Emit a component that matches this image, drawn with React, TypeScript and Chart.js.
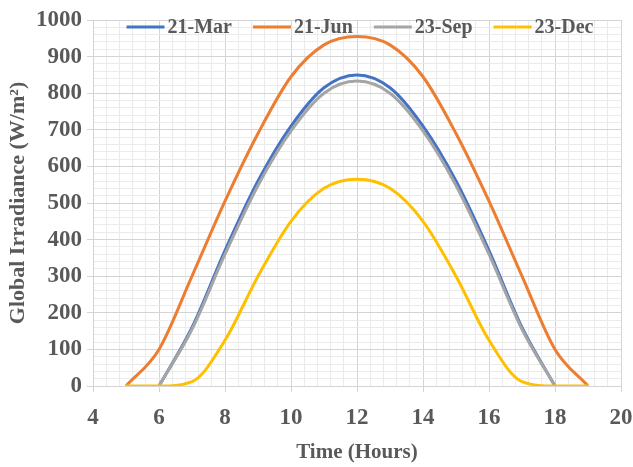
import { useEffect, useRef } from "react";
import { Chart, registerables } from "chart.js";

Chart.register(...registerables);

// Hour of day for each reading
const hoursFull = [5, 6, 7, 8, 9, 10, 11, 12, 13, 14, 15, 16, 17, 18, 19];
const hoursDay = [6, 7, 8, 9, 10, 11, 12, 13, 14, 15, 16, 17, 18];

// Global irradiance (W/m²) per series
const marValues = [0, 160, 370, 560, 710, 815, 850, 815, 710, 560, 370, 160, 0];
const junValues = [0, 100, 300, 505, 690, 845, 932, 955, 932, 845, 690, 505, 300, 100, 0];
const sepValues = [0, 155, 360, 548, 697, 800, 833, 800, 697, 548, 360, 155, 0];
const decValues = [0, 0, 12, 125, 300, 450, 540, 565, 540, 450, 300, 125, 12, 0, 0];

const seriesLabels = ["21-Mar", "21-Jun", "23-Sep", "23-Dec"];
const seriesColors = ["#4472C4", "#ED7D31", "#A5A5A5", "#FFC000"];

// Axis ranges
const xMin = 4;
const xMax = 20;
const xMajorStep = 2;
const xMinorStep = 0.4;
const yMin = 0;
const yMax = 1000;
const yMajorStep = 100;
const yMinorStep = 20;

const FONT_FAMILY = "'Times New Roman', 'Liberation Serif', serif";
const TEXT_COLOR = "#595959";
const MAJOR_GRID = "#d4d4d4";
const MINOR_GRID = "#ebebeb";

const isMultiple = (v: number, step: number) =>
  Math.abs(v / step - Math.round(v / step)) < 1e-6;

const toPoints = (xs: number[], ys: number[]) => xs.map((x, i) => ({ x, y: ys[i] }));

// Legend drawn across the top of the plot area
const insideLegend = {
  id: "insideLegend",
  afterDatasetsDraw(chart: any) {
    const ctx: CanvasRenderingContext2D = chart.ctx;
    const { left, right, top } = chart.chartArea;
    ctx.save();
    ctx.font = `bold 20px ${FONT_FAMILY}`;
    const lineLen = 38;
    const gap = 3;
    const spacing = 21;
    const widths = seriesLabels.map((l) => ctx.measureText(l).width);
    const total =
      widths.reduce((a, w) => a + w + lineLen + gap, 0) + spacing * (seriesLabels.length - 1);
    let x = (left + right) / 2 + 3 - total / 2;
    const y = top + 7;
    seriesLabels.forEach((label, i) => {
      ctx.strokeStyle = seriesColors[i];
      ctx.lineWidth = 3;
      ctx.beginPath();
      ctx.moveTo(x, y);
      ctx.lineTo(x + lineLen, y);
      ctx.stroke();
      x += lineLen + gap;
      ctx.fillStyle = TEXT_COLOR;
      ctx.textAlign = "left";
      ctx.textBaseline = "middle";
      ctx.fillText(label, x, y + 1);
      x += widths[i] + spacing;
    });
    ctx.restore();
  },
};

export default function App() {
  const canvasRef = useRef<HTMLCanvasElement>(null);

  useEffect(() => {
    const canvas = canvasRef.current;
    if (!canvas) return;

    const makeDataset = (i: number, xs: number[], ys: number[], order: number) => ({
      label: seriesLabels[i],
      data: toPoints(xs, ys),
      borderColor: seriesColors[i],
      backgroundColor: seriesColors[i],
      borderWidth: 3,
      pointRadius: 0,
      cubicInterpolationMode: "monotone",
      fill: false,
      order,
    });

    const chart = new Chart(canvas, {
      type: "line",
      data: {
        datasets: [
          makeDataset(0, hoursDay, marValues, 4),
          makeDataset(1, hoursFull, junValues, 3),
          makeDataset(2, hoursDay, sepValues, 2),
          makeDataset(3, hoursFull, decValues, 1),
        ],
      },
      options: {
        responsive: false,
        animation: false,
        devicePixelRatio: 1,
        layout: { padding: { left: 0, top: 20, right: 0, bottom: 0 } },
        plugins: {
          legend: { display: false },
          tooltip: { enabled: false },
        },
        scales: {
          x: {
            type: "linear",
            min: xMin,
            max: xMax,
            afterBuildTicks: (scale: any) => {
              const ticks = [];
              const n = Math.round((xMax - xMin) / xMinorStep);
              for (let k = 0; k <= n; k++) ticks.push({ value: +(xMin + k * xMinorStep).toFixed(4) });
              scale.ticks = ticks;
            },
            afterFit: (scale: any) => {
              scale.height = 81;
              scale.paddingLeft = 0;
              scale.paddingRight = 12;
            },
            ticks: {
              autoSkip: false,
              maxRotation: 0,
              padding: 12,
              color: TEXT_COLOR,
              font: { family: FONT_FAMILY, size: 23, weight: "bold" },
              callback: (v: any) => (isMultiple(Number(v), xMajorStep) ? String(Math.round(Number(v))) : ""),
            },
            grid: {
              color: (c: any) =>
                c.tick && isMultiple(c.tick.value, xMajorStep) ? MAJOR_GRID : MINOR_GRID,
              tickColor: (c: any) =>
                c.tick && isMultiple(c.tick.value, xMajorStep) ? MAJOR_GRID : "rgba(0,0,0,0)",
              tickLength: 6,
              lineWidth: 1,
            },
            border: { color: MAJOR_GRID },
            title: {
              display: true,
              text: "Time (Hours)",
              color: TEXT_COLOR,
              font: { family: FONT_FAMILY, size: 21, weight: "bold" },
              padding: { top: 0, bottom: 2 },
            },
          },
          y: {
            type: "linear",
            min: yMin,
            max: yMax,
            afterBuildTicks: (scale: any) => {
              const ticks = [];
              for (let v = yMin; v <= yMax; v += yMinorStep) ticks.push({ value: v });
              scale.ticks = ticks;
            },
            afterFit: (scale: any) => {
              scale.width = 93;
            },
            ticks: {
              autoSkip: false,
              padding: 5,
              color: TEXT_COLOR,
              font: { family: FONT_FAMILY, size: 23, weight: "bold" },
              callback: (v: any) => (isMultiple(Number(v), yMajorStep) ? String(v) : ""),
            },
            grid: {
              color: (c: any) =>
                c.tick && isMultiple(c.tick.value, yMajorStep) ? MAJOR_GRID : MINOR_GRID,
              tickColor: (c: any) =>
                c.tick && isMultiple(c.tick.value, yMajorStep) ? MAJOR_GRID : "rgba(0,0,0,0)",
              tickLength: 6,
              lineWidth: 1,
            },
            border: { color: MAJOR_GRID },
            title: {
              display: true,
              text: "Global Irradiance (W/m²)",
              color: TEXT_COLOR,
              font: { family: FONT_FAMILY, size: 22, weight: "bold" },
              padding: { top: 5, bottom: 0 },
            },
          },
        },
      },
      plugins: [insideLegend],
    } as any);

    return () => chart.destroy();
  }, []);

  return (
    <div
      style={{
        position: "fixed",
        left: 0,
        top: 0,
        width: 633,
        height: 467,
        background: "#ffffff",
      }}
    >
      <canvas ref={canvasRef} width={633} height={467} style={{ display: "block" }} />
    </div>
  );
}
